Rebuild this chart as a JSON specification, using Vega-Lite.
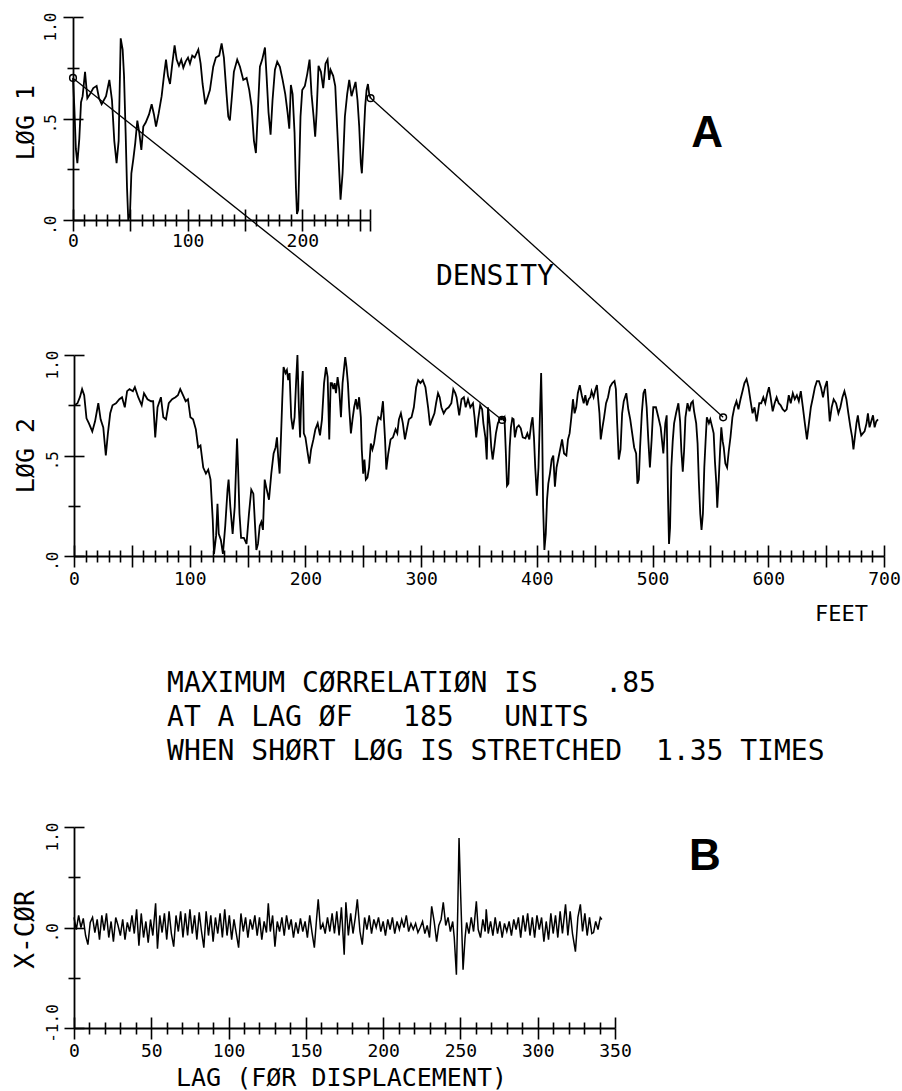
{
  "$schema": "https://vega.github.io/schema/vega-lite/v6.json",
  "width": 902,
  "height": 1091,
  "autosize": {"type": "none"},
  "padding": 0,
  "background": "white",
  "config": {
    "view": {"stroke": null},
    "axis": {
      "grid": false,
      "domainColor": "black",
      "domainWidth": 1.8,
      "tickColor": "black",
      "tickWidth": 1.6,
      "labelColor": "black",
      "labelFont": "DejaVu Sans Mono",
      "labelFontSize": 18,
      "titleColor": "black",
      "titleFont": "DejaVu Sans Mono",
      "titleFontWeight": "normal",
      "labelFlush": false,
      "labelOverlap": false,
      "labelBound": false
    }
  },
  "datasets": {
    "log1": [
      {"x":0,"y":0.70},{"x":1.2,"y":0.55},{"x":2.5,"y":0.35},{"x":3.8,"y":0.28},{"x":5.5,"y":0.40},{"x":7,"y":0.58},{"x":8.4,"y":0.61},{"x":10.5,"y":0.73},{"x":12.5,"y":0.60},{"x":14.8,"y":0.62},{"x":17.7,"y":0.65},{"x":20.6,"y":0.66},{"x":22.7,"y":0.60},{"x":25,"y":0.57},{"x":28.8,"y":0.61},{"x":31.7,"y":0.69},{"x":34,"y":0.59},{"x":36,"y":0.39},{"x":38,"y":0.28},{"x":39.8,"y":0.39},{"x":41.6,"y":0.895},{"x":43.3,"y":0.84},{"x":44.5,"y":0.71},{"x":45.9,"y":0.43},{"x":47.1,"y":0.16},{"x":48.2,"y":0.0},{"x":49.7,"y":0.03},{"x":50.9,"y":0.23},{"x":52.6,"y":0.30},{"x":54.3,"y":0.38},{"x":56.1,"y":0.49},{"x":57.8,"y":0.43},{"x":59.6,"y":0.345},{"x":61.3,"y":0.46},{"x":63.4,"y":0.48},{"x":66.3,"y":0.52},{"x":68.6,"y":0.57},{"x":70.6,"y":0.52},{"x":72.4,"y":0.46},{"x":74.7,"y":0.525},{"x":77.3,"y":0.61},{"x":79.3,"y":0.71},{"x":81.1,"y":0.79},{"x":82.8,"y":0.71},{"x":84.6,"y":0.67},{"x":86.6,"y":0.77},{"x":88.6,"y":0.86},{"x":90.4,"y":0.79},{"x":92.4,"y":0.76},{"x":94.4,"y":0.79},{"x":96.2,"y":0.75},{"x":98.2,"y":0.78},{"x":100.3,"y":0.80},{"x":102,"y":0.77},{"x":104,"y":0.81},{"x":106.1,"y":0.80},{"x":109.3,"y":0.84},{"x":111.3,"y":0.77},{"x":113,"y":0.67},{"x":115.4,"y":0.57},{"x":117.7,"y":0.61},
      {"x":119.4,"y":0.64},{"x":122.3,"y":0.755},{"x":124.6,"y":0.80},{"x":127.5,"y":0.81},{"x":129.6,"y":0.87},{"x":131.6,"y":0.80},{"x":133.9,"y":0.62},{"x":135.4,"y":0.51},{"x":136.8,"y":0.49},{"x":138.3,"y":0.59},{"x":140.3,"y":0.73},{"x":143.2,"y":0.79},{"x":145.6,"y":0.755},{"x":148.5,"y":0.69},{"x":151.4,"y":0.70},{"x":153.7,"y":0.64},{"x":155.7,"y":0.56},{"x":157.8,"y":0.39},{"x":159.5,"y":0.33},{"x":161,"y":0.51},{"x":163,"y":0.755},{"x":165,"y":0.79},{"x":167.4,"y":0.85},{"x":168.8,"y":0.71},{"x":170.5,"y":0.53},{"x":172.3,"y":0.42},{"x":174,"y":0.59},{"x":176.1,"y":0.74},{"x":178.1,"y":0.78},{"x":180.4,"y":0.755},{"x":182.8,"y":0.69},{"x":185.1,"y":0.62},{"x":187.1,"y":0.53},{"x":188.6,"y":0.45},{"x":190,"y":0.665},{"x":191.5,"y":0.62},{"x":193.2,"y":0.43},{"x":194.4,"y":0.16},{"x":195.3,"y":0.03},{"x":196.4,"y":0.05},{"x":197.3,"y":0.26},{"x":198.4,"y":0.51},{"x":199.9,"y":0.64},{"x":202.2,"y":0.66},{"x":204.3,"y":0.72},{"x":206.3,"y":0.79},{"x":208,"y":0.62},{"x":209.8,"y":0.51},{"x":211.2,"y":0.41},{"x":212.4,"y":0.525},{"x":214.1,"y":0.76},{"x":216.2,"y":0.73},{"x":218.2,"y":0.65},{"x":220.2,"y":0.77},{"x":222,"y":0.79},{"x":223.4,"y":0.69},{"x":224.6,"y":0.74},{"x":226.9,"y":0.71},{"x":228.7,"y":0.66},{"x":229.8,"y":0.525},{"x":231.3,"y":0.345},{"x":233.3,"y":0.10},{"x":235.1,"y":0.23},{"x":237.1,"y":0.51},{"x":239.1,"y":0.62},{"x":240.9,"y":0.69},{"x":242.9,"y":0.61},{"x":244.4,"y":0.64},{"x":246.4,"y":0.68},{"x":248.1,"y":0.59},{"x":249.6,"y":0.46},{"x":251,"y":0.28},{"x":251.9,"y":0.23},{"x":253.1,"y":0.36},{"x":254.8,"y":0.56},{"x":256,"y":0.64},{"x":257.2,"y":0.67},{"x":258.3,"y":0.62},{"x":259.5,"y":0.60}
    ],
    "ends1": [{"x":0,"y":0.70},{"x":259.5,"y":0.60}],
    "log2": [
      {"x":0.6,"y":0.75},{"x":3,"y":0.76},{"x":5.1,"y":0.79},{"x":7,"y":0.83},{"x":8.8,"y":0.80},{"x":10.8,"y":0.685},{"x":12.9,"y":0.66},{"x":15.8,"y":0.62},{"x":18.2,"y":0.67},{"x":21,"y":0.76},{"x":23,"y":0.68},{"x":25.3,"y":0.64},{"x":27.5,"y":0.50},{"x":29.3,"y":0.61},{"x":31.3,"y":0.71},{"x":33.3,"y":0.75},{"x":36.3,"y":0.76},{"x":39.2,"y":0.78},{"x":41.5,"y":0.79},{"x":43.9,"y":0.74},{"x":45.9,"y":0.82},{"x":48,"y":0.83},{"x":50.9,"y":0.82},{"x":52.6,"y":0.84},{"x":55.5,"y":0.79},{"x":58.5,"y":0.75},{"x":60.5,"y":0.81},{"x":63.5,"y":0.78},{"x":66.6,"y":0.77},{"x":68.4,"y":0.77},{"x":70.2,"y":0.59},{"x":72.2,"y":0.74},{"x":75.1,"y":0.79},{"x":77.2,"y":0.69},{"x":79.5,"y":0.68},{"x":81.9,"y":0.76},{"x":84.8,"y":0.78},{"x":87.7,"y":0.79},{"x":89.8,"y":0.80},{"x":91.8,"y":0.83},{"x":94.2,"y":0.80},{"x":96.5,"y":0.77},{"x":98.5,"y":0.78},{"x":100.6,"y":0.69},{"x":102.9,"y":0.68},{"x":105.3,"y":0.63},{"x":107.3,"y":0.54},{"x":109.3,"y":0.55},{"x":111.7,"y":0.44},{"x":114,"y":0.41},{"x":116,"y":0.43},{"x":118,"y":0.38},{"x":119.9,"y":0.18},{"x":121,"y":0.01},{"x":122.8,"y":0.10},{"x":124,"y":0.26},{"x":125.1,"y":0.11},{"x":126.9,"y":0.08},{"x":128.7,"y":0.01},{"x":130.7,"y":0.15},{"x":132.7,"y":0.33},{"x":133.6,"y":0.38},{"x":135.1,"y":0.245},{"x":137.1,"y":0.11},{"x":138.9,"y":0.245},{"x":140.9,"y":0.585},{"x":141.8,"y":0.44},{"x":143,"y":0.21},{"x":144.4,"y":0.09},{"x":146.8,"y":0.09},{"x":149.1,"y":0.06},{"x":151.2,"y":0.21},{"x":153.2,"y":0.33},{"x":155,"y":0.31},
      {"x":157.6,"y":0.03},{"x":159,"y":0.06},{"x":160.5,"y":0.15},{"x":161.9,"y":0.17},{"x":163.3,"y":0.13},{"x":164.8,"y":0.38},{"x":166.2,"y":0.34},{"x":168.5,"y":0.28},{"x":170.5,"y":0.41},{"x":172.5,"y":0.51},{"x":174.2,"y":0.54},{"x":175.4,"y":0.59},{"x":176.5,"y":0.49},{"x":177.7,"y":0.41},{"x":178.8,"y":0.58},{"x":180,"y":0.78},{"x":181.1,"y":0.94},{"x":182.8,"y":0.91},{"x":184,"y":0.925},{"x":185.1,"y":0.875},{"x":186.3,"y":0.91},{"x":187.7,"y":0.69},{"x":189.1,"y":0.63},{"x":190.6,"y":0.69},{"x":192,"y":0.875},{"x":193.1,"y":1.0},{"x":194.3,"y":0.74},{"x":195.4,"y":0.59},{"x":196.6,"y":0.83},{"x":197.7,"y":0.92},{"x":198.6,"y":0.61},{"x":200,"y":0.59},{"x":202,"y":0.51},{"x":203.4,"y":0.46},{"x":204.9,"y":0.53},{"x":206.9,"y":0.58},{"x":208.6,"y":0.63},{"x":210.6,"y":0.66},{"x":212.6,"y":0.60},{"x":214.3,"y":0.68},{"x":216.1,"y":0.86},{"x":217.8,"y":0.94},{"x":219.2,"y":0.89},{"x":220.6,"y":0.58},{"x":221.8,"y":0.86},{"x":222.9,"y":0.86},{"x":224.1,"y":0.83},{"x":225.2,"y":0.86},{"x":226.4,"y":0.81},{"x":227.8,"y":0.89},{"x":229.2,"y":0.83},{"x":230.7,"y":0.69},{"x":232.1,"y":0.86},{"x":233.5,"y":0.94},{"x":234.4,"y":0.99},{"x":235.5,"y":0.94},{"x":236.7,"y":0.86},{"x":237.8,"y":0.74},{"x":239.3,"y":0.61},{"x":240.7,"y":0.68},{"x":242.1,"y":0.74},{"x":243.6,"y":0.78},{"x":245,"y":0.73},{"x":246.4,"y":0.79},{"x":247.9,"y":0.69},{"x":248.7,"y":0.53},{"x":249.9,"y":0.41},{"x":251,"y":0.48},{"x":252.2,"y":0.38},{"x":253.6,"y":0.39},{"x":255,"y":0.44},{"x":256.5,"y":0.56},{"x":257.9,"y":0.53},{"x":259.3,"y":0.56},{"x":261.3,"y":0.64},{"x":263,"y":0.69},{"x":265,"y":0.68},{"x":267,"y":0.77},{"x":268.8,"y":0.58},{"x":269.9,"y":0.43},{"x":271.6,"y":0.51},{"x":273.6,"y":0.58},{"x":275.6,"y":0.59},{"x":277.9,"y":0.63},{"x":279.4,"y":0.61},{"x":280.8,"y":0.68},{"x":282.5,"y":0.71},{"x":284.2,"y":0.66},{"x":286,"y":0.58},{"x":288,"y":0.64},{"x":289.4,"y":0.68},{"x":291.7,"y":0.69},{"x":293.7,"y":0.74},{"x":295.7,"y":0.84},{"x":297.4,"y":0.875},{"x":299.4,"y":0.86},{"x":301.4,"y":0.875},{"x":303.7,"y":0.84},{"x":306,"y":0.74},{"x":307.7,"y":0.65},{"x":309.5,"y":0.68},{"x":311.5,"y":0.71},{"x":312.9,"y":0.76},{"x":314.6,"y":0.81},{"x":316,"y":0.79},{"x":317.5,"y":0.74},{"x":319.5,"y":0.71},{"x":321.5,"y":0.73},{"x":323.8,"y":0.74},{"x":326.1,"y":0.76},{"x":327.8,"y":0.83},{"x":329.5,"y":0.81},
      {"x":330.6,"y":0.79},{"x":332.9,"y":0.70},{"x":334.9,"y":0.78},{"x":336.9,"y":0.79},{"x":338.5,"y":0.74},{"x":340.5,"y":0.78},{"x":342.5,"y":0.74},{"x":344.8,"y":0.76},{"x":346.2,"y":0.69},{"x":347.6,"y":0.59},{"x":349.3,"y":0.68},{"x":351,"y":0.75},{"x":352.7,"y":0.73},{"x":353.8,"y":0.66},{"x":355.5,"y":0.59},{"x":356.7,"y":0.48},{"x":357.8,"y":0.74},{"x":359.5,"y":0.64},{"x":360.6,"y":0.54},{"x":361.8,"y":0.48},{"x":363.2,"y":0.54},{"x":364.6,"y":0.61},{"x":366.3,"y":0.66},{"x":368,"y":0.68},{"x":369.7,"y":0.69},{"x":370.8,"y":0.68},{"x":372,"y":0.69},{"x":373.1,"y":0.53},{"x":374.2,"y":0.35},{"x":375.4,"y":0.36},{"x":376.5,"y":0.54},{"x":377.6,"y":0.64},{"x":378.8,"y":0.685},{"x":379.9,"y":0.68},{"x":381,"y":0.59},{"x":382.7,"y":0.64},{"x":384.4,"y":0.65},{"x":386.1,"y":0.635},{"x":387.8,"y":0.59},{"x":390.1,"y":0.585},{"x":391.8,"y":0.61},{"x":393.5,"y":0.58},{"x":395.2,"y":0.66},{"x":396.3,"y":0.69},{"x":397.5,"y":0.59},{"x":398.6,"y":0.44},{"x":400,"y":0.30},{"x":401.4,"y":0.44},{"x":402.6,"y":0.69},{"x":403.7,"y":0.91},{"x":404.5,"y":0.69},{"x":405.4,"y":0.245},{"x":406.5,"y":0.03},{"x":407.7,"y":0.11},{"x":408.8,"y":0.28},{"x":409.9,"y":0.36},{"x":411.3,"y":0.41},{"x":412.8,"y":0.48},{"x":414.2,"y":0.50},{"x":415.6,"y":0.345},{"x":417,"y":0.44},{"x":418.4,"y":0.48},{"x":420.1,"y":0.53},{"x":421.8,"y":0.58},{"x":423.5,"y":0.51},{"x":425.5,"y":0.50},{"x":426.9,"y":0.58},{"x":428.3,"y":0.61},{"x":429.8,"y":0.69},{"x":431.2,"y":0.78},{"x":432.6,"y":0.71},{"x":434,"y":0.74},{"x":435.4,"y":0.81},{"x":437.1,"y":0.85},{"x":438.8,"y":0.80},{"x":440.5,"y":0.76},{"x":441.9,"y":0.80},{"x":443.3,"y":0.75},{"x":444.8,"y":0.78},{"x":446.2,"y":0.79},{"x":447.3,"y":0.82},{"x":449,"y":0.79},{"x":450.7,"y":0.83},{"x":451.9,"y":0.85},{"x":453,"y":0.78},{"x":454.1,"y":0.71},{"x":455.2,"y":0.58},{"x":456.7,"y":0.64},{"x":458.1,"y":0.69},{"x":459.8,"y":0.76},{"x":461.5,"y":0.79},{"x":463.2,"y":0.84},{"x":465.2,"y":0.86},{"x":467.1,"y":0.87},{"x":468.3,"y":0.83},{"x":469.4,"y":0.66},{"x":470.8,"y":0.48},{"x":472.3,"y":0.53},{"x":473.7,"y":0.71},{"x":475.1,"y":0.77},{"x":477.3,"y":0.81},{"x":479,"y":0.73},{"x":480.7,"y":0.68},{"x":482.4,"y":0.61},{"x":484.1,"y":0.54},{"x":485.8,"y":0.51},{"x":486.9,"y":0.36},{"x":488.1,"y":0.38},{"x":489.2,"y":0.54},{"x":490.7,"y":0.71},{"x":492.1,"y":0.81},{"x":493.5,"y":0.83},{"x":494.9,"y":0.74},{"x":496.3,"y":0.58},{"x":497.7,"y":0.44},{"x":499.2,"y":0.58},{"x":500.6,"y":0.74},
      {"x":502.9,"y":0.74},{"x":505,"y":0.69},{"x":507,"y":0.64},{"x":509.3,"y":0.51},{"x":511,"y":0.66},{"x":512.2,"y":0.70},{"x":513.4,"y":0.275},{"x":514.2,"y":0.06},{"x":515.1,"y":0.14},{"x":516.2,"y":0.44},{"x":517.4,"y":0.57},{"x":518.6,"y":0.66},{"x":520.3,"y":0.71},{"x":522.3,"y":0.76},{"x":523.8,"y":0.67},{"x":524.9,"y":0.52},{"x":526.1,"y":0.42},{"x":527.2,"y":0.52},{"x":528.4,"y":0.69},{"x":530.2,"y":0.76},{"x":531.9,"y":0.72},{"x":533.3,"y":0.76},{"x":534.8,"y":0.77},{"x":535.9,"y":0.72},{"x":537.7,"y":0.66},{"x":538.9,"y":0.56},{"x":540,"y":0.37},{"x":541.2,"y":0.21},{"x":542.3,"y":0.13},{"x":543.5,"y":0.21},{"x":544.7,"y":0.44},{"x":545.8,"y":0.57},{"x":546.9,"y":0.69},{"x":548.7,"y":0.66},{"x":549.9,"y":0.68},{"x":551.6,"y":0.64},{"x":552.8,"y":0.61},{"x":553.9,"y":0.47},{"x":555.1,"y":0.36},{"x":555.9,"y":0.24},{"x":557.1,"y":0.37},{"x":558.3,"y":0.52},{"x":559.4,"y":0.64},{"x":560.6,"y":0.57},{"x":561.5,"y":0.54},{"x":562.9,"y":0.46},{"x":564.4,"y":0.44},{"x":565.8,"y":0.52},{"x":567.3,"y":0.59},{"x":569,"y":0.69},{"x":570.7,"y":0.74},{"x":572.5,"y":0.77},{"x":574.2,"y":0.73},{"x":576,"y":0.78},{"x":577.7,"y":0.82},{"x":579.4,"y":0.86},{"x":581.2,"y":0.88},{"x":582.9,"y":0.84},{"x":584.7,"y":0.77},{"x":586.4,"y":0.71},{"x":588.1,"y":0.74},{"x":589.9,"y":0.67},{"x":591,"y":0.71},{"x":592.2,"y":0.76},{"x":593.9,"y":0.76},{"x":595.7,"y":0.79},{"x":597.4,"y":0.76},{"x":599.2,"y":0.81},{"x":600.6,"y":0.84},{"x":602,"y":0.79},{"x":603.8,"y":0.72},{"x":605.5,"y":0.76},{"x":607.2,"y":0.79},{"x":609,"y":0.76},{"x":610.7,"y":0.75},{"x":612.4,"y":0.73},{"x":614.2,"y":0.72},{"x":615.9,"y":0.73},{"x":617.7,"y":0.80},{"x":619.4,"y":0.76},{"x":621.2,"y":0.81},{"x":622.9,"y":0.78},{"x":624.7,"y":0.80},{"x":626.4,"y":0.77},{"x":628.1,"y":0.82},{"x":629.9,"y":0.74},{"x":631.6,"y":0.66},{"x":633.4,"y":0.58},{"x":635.1,"y":0.66},{"x":636.8,"y":0.74},{"x":638.6,"y":0.79},{"x":640.3,"y":0.84},{"x":642,"y":0.87},{"x":643.8,"y":0.87},{"x":645.5,"y":0.84},{"x":647.3,"y":0.79},{"x":649,"y":0.84},{"x":650.7,"y":0.87},{"x":651.9,"y":0.77},{"x":653.1,"y":0.67},{"x":654.8,"y":0.74},{"x":656.5,"y":0.78},{"x":658.6,"y":0.76},{"x":660.6,"y":0.71},{"x":662.3,"y":0.74},{"x":664.1,"y":0.79},{"x":665.8,"y":0.82},{"x":667.5,"y":0.78},{"x":669.2,"y":0.71},{"x":671,"y":0.64},{"x":672.5,"y":0.59},{"x":673.6,"y":0.53},{"x":674.8,"y":0.59},{"x":676.2,"y":0.66},{"x":677.4,"y":0.70},{"x":678.8,"y":0.64},{"x":680.3,"y":0.60},{"x":681.7,"y":0.61},{"x":683.2,"y":0.62},{"x":684.9,"y":0.66},{"x":686.1,"y":0.71},{"x":687.5,"y":0.64},{"x":689,"y":0.67},{"x":690.5,"y":0.70},{"x":691.9,"y":0.64},{"x":693.3,"y":0.67},{"x":694.8,"y":0.68}
    ],
    "links": [
      {"x":0,"y":2.373,"x2":370,"y2":0.677},
      {"x":256.3,"y":2.279,"x2":561,"y2":0.69}
    ],
    "ends2": [{"x":370,"y":0.677},{"x":561,"y":0.69}],
    "xcor": [
      {"x":0,"y":0.10},{"x":1.5,"y":-0.02},{"x":3,"y":0.12},{"x":4.5,"y":0.0},{"x":6,"y":0.09},{"x":7.5,"y":-0.08},{"x":9,"y":-0.17},{"x":10.5,"y":0.05},{"x":12,"y":0.10},{"x":13.5,"y":-0.05},{"x":15,"y":0.08},{"x":16.5,"y":-0.12},{"x":18,"y":0.12},{"x":19.5,"y":-0.03},{"x":21,"y":0.14},{"x":22.5,"y":-0.10},{"x":24,"y":0.06},{"x":25.5,"y":-0.14},{"x":27,"y":0.10},{"x":28.5,"y":0.02},{"x":30,"y":-0.08},{"x":31.5,"y":0.08},{"x":33,"y":-0.12},{"x":34.5,"y":0.05},{"x":36,"y":-0.04},{"x":37.5,"y":0.12},{"x":39,"y":-0.06},{"x":40.5,"y":0.18},{"x":42,"y":-0.18},{"x":43.5,"y":0.14},{"x":45,"y":-0.10},{"x":46.5,"y":0.06},{"x":48,"y":-0.15},{"x":49.5,"y":0.08},{"x":51,"y":-0.08},{"x":52.8,"y":0.24},{"x":54,"y":-0.21},{"x":55.5,"y":0.12},{"x":57,"y":-0.05},{"x":58.5,"y":0.14},{"x":60,"y":-0.12},{"x":61.5,"y":0.16},{"x":63,"y":-0.06},{"x":64.5,"y":-0.19},{"x":66,"y":0.12},{"x":67.5,"y":-0.04},{"x":69,"y":0.16},{"x":70.5,"y":-0.10},{"x":72,"y":0.14},{"x":73.5,"y":-0.08},{"x":75,"y":0.18},{"x":76.5,"y":-0.06},{"x":78,"y":0.12},{"x":79.5,"y":-0.12},{"x":81,"y":0.15},{"x":82.5,"y":-0.04},{"x":84,"y":-0.20},{"x":85.5,"y":0.16},{"x":87,"y":-0.08},{"x":88.5,"y":0.12},{"x":90,"y":-0.14},{"x":91.5,"y":0.10},{"x":93,"y":-0.06},{"x":94.5,"y":0.14},{"x":96,"y":-0.10},{"x":97.5,"y":0.18},{"x":99,"y":-0.08},{"x":100.5,"y":0.12},{"x":102,"y":-0.12},{"x":103.5,"y":0.08},{"x":105,"y":-0.06},{"x":106.5,"y":-0.20},{"x":108,"y":0.14},{"x":109.5,"y":-0.04},{"x":111,"y":0.10},{"x":112.5,"y":-0.10},{"x":114,"y":0.08},{"x":115.5,"y":-0.02},{"x":117,"y":0.12},{"x":118.5,"y":-0.08},{"x":120,"y":0.10},{"x":121.5,"y":-0.12},{"x":123,"y":0.06},{"x":124.5,"y":-0.05},{"x":125.7,"y":0.24},{"x":127,"y":-0.04},{"x":128.5,"y":0.12},{"x":130,"y":-0.19},{"x":131.5,"y":0.06},{"x":133,"y":-0.04},{"x":134.5,"y":0.10},{"x":136,"y":-0.08},{"x":137.5,"y":0.12},{"x":139,"y":-0.02},{"x":140.5,"y":0.08},{"x":142,"y":-0.10},{"x":143.5,"y":0.05},{"x":145,"y":-0.06},{"x":146.5,"y":0.09},{"x":148,"y":-0.04},{"x":149.5,"y":0.06},{"x":151,"y":-0.10},{"x":152.5,"y":0.12},{"x":154,"y":-0.05},{"x":155.5,"y":-0.20},{"x":157,"y":0.10},{"x":158,"y":0.28},{"x":159.5,"y":-0.02},{"x":161,"y":0.04},{"x":162.5,"y":-0.06},{"x":164,"y":0.10},{"x":165.5,"y":-0.04},{"x":167,"y":0.14},{"x":168.5,"y":-0.06},{"x":170,"y":0.16},{"x":171.5,"y":-0.08},{"x":173,"y":0.20},{"x":174.8,"y":-0.27},{"x":175.9,"y":0.25},{"x":177.5,"y":-0.08},{"x":179,"y":0.14},{"x":180.5,"y":-0.06},{"x":182,"y":0.10},{"x":183.3,"y":0.28},{"x":185,"y":-0.04},{"x":186.5,"y":-0.17},{"x":188,"y":0.10},{"x":189.5,"y":-0.02},{"x":191,"y":0.12},{"x":192.5,"y":-0.06},{"x":194,"y":0.08},{"x":195.5,"y":0.0},{"x":197,"y":0.10},{"x":198.5,"y":-0.04},{"x":200,"y":0.06},{"x":201.5,"y":-0.08},{"x":203,"y":0.08},{"x":204.5,"y":-0.02},{"x":206,"y":0.10},{"x":207.5,"y":-0.06},{"x":209,"y":0.06},{"x":210.5,"y":-0.02},{"x":212,"y":0.08},{"x":213.5,"y":0.0},{"x":215,"y":0.12},{"x":216.5,"y":-0.04},{"x":218,"y":0.04},{"x":219.5,"y":-0.02},{"x":221,"y":0.04},{"x":222.5,"y":-0.05},{"x":224,"y":0.0},{"x":225.5,"y":0.06},{"x":227,"y":-0.06},{"x":228.5,"y":0.02},{"x":230,"y":-0.10},{"x":231.4,"y":0.21},{"x":233,"y":0.06},{"x":234.6,"y":-0.14},{"x":236,"y":0.02},{"x":237.5,"y":0.08},{"x":238.9,"y":0.25},{"x":240.5,"y":0.02},{"x":242,"y":0.10},{"x":243.5,"y":-0.04},{"x":245,"y":0.06},{"x":246,"y":-0.10},{"x":247.4,"y":-0.47},{"x":248.3,"y":0.20},{"x":249.1,"y":0.89},{"x":250.2,"y":0.30},{"x":251.7,"y":-0.42},{"x":253,"y":-0.10},{"x":254,"y":0.05},{"x":255.5,"y":-0.06},{"x":257,"y":0.10},{"x":258.5,"y":-0.04},{"x":260.3,"y":0.26},{"x":261.5,"y":-0.02},{"x":263,"y":-0.10},{"x":264.5,"y":0.08},{"x":266,"y":-0.04},{"x":266.7,"y":0.18},{"x":268,"y":-0.06},{"x":269.5,"y":0.06},{"x":271,"y":-0.08},{"x":272.5,"y":0.10},{"x":274,"y":-0.06},{"x":275.5,"y":0.06},{"x":277,"y":-0.10},{"x":278.5,"y":0.04},{"x":280,"y":-0.04},{"x":281.5,"y":0.06},{"x":283,"y":-0.08},{"x":284.5,"y":0.08},{"x":286,"y":-0.02},{"x":287.5,"y":0.10},{"x":289,"y":-0.10},{"x":290.5,"y":0.12},{"x":292,"y":-0.04},{"x":293.5,"y":0.14},{"x":295,"y":-0.08},{"x":296.5,"y":0.10},{"x":298,"y":-0.10},{"x":299.5,"y":0.12},{"x":301,"y":-0.02},{"x":302.5,"y":0.10},{"x":304,"y":-0.14},{"x":305.5,"y":0.06},{"x":307,"y":-0.12},{"x":308.5,"y":0.14},{"x":310,"y":-0.06},{"x":311.5,"y":0.12},{"x":313,"y":-0.10},{"x":314.5,"y":0.16},{"x":316,"y":-0.06},{"x":318,"y":0.23},{"x":319.5,"y":-0.08},{"x":321,"y":0.16},{"x":322.5,"y":-0.06},{"x":324.4,"y":-0.24},{"x":326,"y":0.10},{"x":327.6,"y":0.23},{"x":329,"y":-0.04},{"x":330.5,"y":0.14},{"x":332,"y":-0.08},{"x":333.5,"y":0.10},{"x":335,"y":-0.06},{"x":336.1,"y":-0.05},{"x":337.5,"y":0.06},{"x":339,"y":-0.02},{"x":340.5,"y":0.10},{"x":341.5,"y":0.08}
    ],
    "notes": [
      {"x":60.2,"y":2.343,"t":"MAXIMUM CØRRELATIØN IS\u00a0\u00a0\u00a0\u00a0.85"},
      {"x":60.2,"y":2.005,"t":"AT A LAG ØF\u00a0\u00a0\u00a0185\u00a0\u00a0\u00a0UNITS"},
      {"x":60.2,"y":1.667,"t":"WHEN SHØRT LØG IS STRETCHED\u00a0\u00a01.35 TIMES"}
    ]
  },
  "layer": [
    {
      "data": {"name": "log1"},
      "mark": {"type": "line", "color": "black", "strokeWidth": 1.8},
      "encoding": {
        "x": {"field": "x", "type": "quantitative",
          "scale": {"domain": [0, 259], "range": [73, 370], "nice": false, "zero": false},
          "axis": {
            "orient": "bottom", "offset": -871, "title": null,
            "values": [0,10,20,30,40,50,60,70,80,90,100,110,120,130,140,150,160,170,180,190,200,210,220,230,240,250,259],
            "labelExpr": "datum.value % 100 === 0 ? '' + datum.value : ''",
            "labelAlign": "center", "labelBaseline": "top", "labelPadding": 1,
            "tickSize": {"condition": {"test": "datum.value % 50 === 0 || datum.value > 255", "value": 11}, "value": 6}
          }},
        "y": {"field": "y", "type": "quantitative",
          "scale": {"domain": [0, 1], "range": [220, 17], "nice": false, "zero": false},
          "axis": {
            "orient": "left", "offset": -73, "values": [0, 0.25, 0.5, 0.75, 1],
            "title": "LØG 1", "titleX": -40, "titleY": 122, "titleAngle": -90, "titleAlign": "center", "titleBaseline": "alphabetic", "titleFontSize": 25,
            "labelExpr": "datum.value === 0 ? '.0' : datum.value === 0.5 ? '.5' : datum.value === 1 ? '1.0' : ''",
            "labelAngle": -90, "labelAlign": "right", "labelBaseline": "alphabetic", "labelOffset": -5, "labelFontSize": 16, "labelPadding": 8,
            "tickSize": {"condition": {"test": "datum.value === 0 || datum.value === 0.5 || datum.value === 1", "value": 10}, "value": 6}
          }}
      }
    },
    {
      "data": {"name": "ends1"},
      "mark": {"type": "point", "shape": "circle", "filled": false, "color": "black", "size": 45, "strokeWidth": 1.5, "opacity": 1},
      "encoding": {
        "x": {"field": "x", "type": "quantitative",
          "scale": {"domain": [0, 259], "range": [73, 370], "nice": false, "zero": false},
          "axis": {
            "orient": "top", "offset": -220, "title": null, "labels": false, "domain": false,
            "values": [0,10,20,30,40,50,60,70,80,90,100,110,120,130,140,150,160,170,180,190,200,210,220,230,240,250,259],
            "tickSize": {"condition": {"test": "datum.value % 50 === 0 || datum.value > 255", "value": 11}, "value": 6}
          }},
        "y": {"field": "y", "type": "quantitative",
          "scale": {"domain": [0, 1], "range": [220, 17], "nice": false, "zero": false},
          "axis": {
            "orient": "right", "offset": -829, "title": null, "labels": false, "domain": false,
            "values": [0, 0.25, 0.5, 0.75, 1],
            "tickSize": {"condition": {"test": "datum.value === 0 || datum.value === 0.5 || datum.value === 1", "value": 10}, "value": 6}
          }}
      }
    },
    {
      "data": {"values": [{"x": 552.9, "y": 0.36, "t": "A"}]},
      "mark": {"type": "text", "font": "Liberation Sans", "fontWeight": "bold", "fontSize": 44, "align": "center", "baseline": "alphabetic", "color": "black"},
      "encoding": {
        "x": {"field": "x", "type": "quantitative", "scale": {"domain": [0, 259], "range": [73, 370], "nice": false, "zero": false}, "axis": null},
        "y": {"field": "y", "type": "quantitative", "scale": {"domain": [0, 1], "range": [220, 17], "nice": false, "zero": false}, "axis": null},
        "text": {"field": "t"}
      }
    },
    {
      "data": {"name": "log2"},
      "mark": {"type": "line", "color": "black", "strokeWidth": 1.8},
      "encoding": {
        "x": {"field": "x", "type": "quantitative",
          "scale": {"domain": [0, 700], "range": [74, 884], "nice": false, "zero": false},
          "axis": {
            "orient": "bottom", "offset": -535,
            "values": [0,10,20,30,40,50,60,70,80,90,100,110,120,130,140,150,160,170,180,190,200,210,220,230,240,250,260,270,280,290,300,310,320,330,340,350,360,370,380,390,400,410,420,430,440,450,460,470,480,490,500,510,520,530,540,550,560,570,580,590,600,610,620,630,640,650,660,670,680,690,700],
            "labelExpr": "datum.value % 100 === 0 ? '' + datum.value : ''",
            "labelAlign": "center", "labelBaseline": "top", "labelPadding": 3,
            "tickSize": {"condition": {"test": "datum.value % 50 === 0", "value": 11}, "value": 6},
            "title": "FEET", "titleX": 841, "titleY": 64, "titleAngle": 0, "titleAlign": "center", "titleBaseline": "alphabetic", "titleFontSize": 22
          }},
        "y": {"field": "y", "type": "quantitative",
          "scale": {"domain": [0, 1], "range": [556, 355], "nice": false, "zero": false},
          "axis": {
            "orient": "left", "offset": -74, "values": [0, 0.25, 0.5, 0.75, 1],
            "title": "LØG 2", "titleX": -41, "titleY": 455, "titleAngle": -90, "titleAlign": "center", "titleBaseline": "alphabetic", "titleFontSize": 25,
            "labelExpr": "datum.value === 0 ? '.0' : datum.value === 0.5 ? '.5' : datum.value === 1 ? '1.0' : ''",
            "labelAngle": -90, "labelAlign": "right", "labelBaseline": "alphabetic", "labelOffset": -5, "labelFontSize": 16, "labelPadding": 7,
            "tickSize": {"condition": {"test": "datum.value === 0 || datum.value === 0.5 || datum.value === 1", "value": 10}, "value": 6}
          }}
      }
    },
    {
      "data": {"name": "links"},
      "mark": {"type": "rule", "color": "black", "strokeWidth": 1.3},
      "encoding": {
        "x": {"field": "x", "type": "quantitative", "scale": {"domain": [0, 700], "range": [74, 884], "nice": false, "zero": false}, "axis": null},
        "y": {"field": "y", "type": "quantitative", "scale": {"domain": [0, 1], "range": [556, 355], "nice": false, "zero": false}, "axis": null},
        "x2": {"field": "x2"},
        "y2": {"field": "y2"}
      }
    },
    {
      "data": {"name": "ends2"},
      "mark": {"type": "point", "shape": "circle", "filled": false, "color": "black", "size": 45, "strokeWidth": 1.5, "opacity": 1},
      "encoding": {
        "x": {"field": "x", "type": "quantitative",
          "scale": {"domain": [0, 700], "range": [74, 884], "nice": false, "zero": false},
          "axis": {
            "orient": "top", "offset": -556, "title": null, "labels": false, "domain": false,
            "values": [0,10,20,30,40,50,60,70,80,90,100,110,120,130,140,150,160,170,180,190,200,210,220,230,240,250,260,270,280,290,300,310,320,330,340,350,360,370,380,390,400,410,420,430,440,450,460,470,480,490,500,510,520,530,540,550,560,570,580,590,600,610,620,630,640,650,660,670,680,690,700],
            "tickSize": {"condition": {"test": "datum.value % 50 === 0", "value": 11}, "value": 6}
          }},
        "y": {"field": "y", "type": "quantitative",
          "scale": {"domain": [0, 1], "range": [556, 355], "nice": false, "zero": false},
          "axis": {
            "orient": "right", "offset": -828, "title": null, "labels": false, "domain": false,
            "values": [0, 0.25, 0.5, 0.75, 1],
            "tickSize": {"condition": {"test": "datum.value === 0 || datum.value === 0.5 || datum.value === 1", "value": 10}, "value": 6}
          }}
      }
    },
    {
      "data": {"values": [{"x": 363.8, "y": 1.348, "t": "DENSITY"}]},
      "mark": {"type": "text", "font": "DejaVu Sans Mono", "fontSize": 28, "align": "center", "baseline": "alphabetic", "color": "black"},
      "encoding": {
        "x": {"field": "x", "type": "quantitative", "scale": {"domain": [0, 700], "range": [74, 884], "nice": false, "zero": false}, "axis": null},
        "y": {"field": "y", "type": "quantitative", "scale": {"domain": [0, 1], "range": [556, 355], "nice": false, "zero": false}, "axis": null},
        "text": {"field": "t"}
      }
    },
    {
      "data": {"name": "xcor"},
      "mark": {"type": "line", "color": "black", "strokeWidth": 1.5},
      "encoding": {
        "x": {"field": "x", "type": "quantitative",
          "scale": {"domain": [0, 350], "range": [74, 615], "nice": false, "zero": false},
          "axis": {
            "orient": "bottom", "offset": -63,
            "values": [0,10,20,30,40,50,60,70,80,90,100,110,120,130,140,150,160,170,180,190,200,210,220,230,240,250,260,270,280,290,300,310,320,330,340,350],
            "labelExpr": "datum.value % 50 === 0 ? '' + datum.value : ''",
            "labelAlign": "center", "labelBaseline": "top", "labelFontSize": 18, "labelPadding": 3,
            "tickSize": {"condition": {"test": "datum.value % 50 === 0", "value": 11}, "value": 6},
            "title": "LAG (FØR DISPLACEMENT)", "titleX": 341, "titleY": 57, "titleAngle": 0, "titleAlign": "center", "titleBaseline": "alphabetic", "titleFontSize": 25
          }},
        "y": {"field": "y", "type": "quantitative",
          "scale": {"domain": [-1, 1], "range": [1028, 827], "nice": false, "zero": false},
          "axis": {
            "orient": "left", "offset": -74, "values": [-1, -0.5, 0, 0.5, 1],
            "title": "X-CØR", "titleX": -41, "titleY": 929, "titleAngle": -90, "titleAlign": "center", "titleBaseline": "alphabetic", "titleFontSize": 26,
            "labelExpr": "datum.value === 0 ? '.0' : datum.value === 1 ? '1.0' : datum.value === -1 ? '-1.0' : ''",
            "labelAngle": -90,
            "labelAlign": {"condition": {"test": "datum.value === -1", "value": "center"}, "value": "right"},
            "labelBaseline": "alphabetic", "labelOffset": -5, "labelFontSize": 16, "labelPadding": 7,
            "tickSize": {"condition": {"test": "datum.value % 1 === 0", "value": 10}, "value": 6}
          }}
      }
    },
    {
      "data": {"values": [{"x": 408.2, "y": 0.577, "t": "B"}]},
      "mark": {"type": "text", "font": "Liberation Sans", "fontWeight": "bold", "fontSize": 44, "align": "center", "baseline": "alphabetic", "color": "black"},
      "encoding": {
        "x": {"field": "x", "type": "quantitative",
          "scale": {"domain": [0, 350], "range": [74, 615], "nice": false, "zero": false},
          "axis": {
            "orient": "top", "offset": -1028, "title": null, "labels": false, "domain": false,
            "values": [0,10,20,30,40,50,60,70,80,90,100,110,120,130,140,150,160,170,180,190,200,210,220,230,240,250,260,270,280,290,300,310,320,330,340,350],
            "tickSize": {"condition": {"test": "datum.value % 50 === 0", "value": 11}, "value": 6}
          }},
        "y": {"field": "y", "type": "quantitative",
          "scale": {"domain": [-1, 1], "range": [1028, 827], "nice": false, "zero": false},
          "axis": {
            "orient": "right", "offset": -828, "title": null, "labels": false, "domain": false,
            "values": [-1, -0.5, 0, 0.5, 1],
            "tickSize": {"condition": {"test": "datum.value % 1 === 0", "value": 10}, "value": 6}
          }},
        "text": {"field": "t"}
      }
    },
    {
      "data": {"name": "notes"},
      "mark": {"type": "text", "font": "DejaVu Sans Mono", "fontSize": 28, "align": "left", "baseline": "alphabetic", "color": "black"},
      "encoding": {
        "x": {"field": "x", "type": "quantitative", "scale": {"domain": [0, 350], "range": [74, 615], "nice": false, "zero": false}, "axis": null},
        "y": {"field": "y", "type": "quantitative", "scale": {"domain": [-1, 1], "range": [1028, 827], "nice": false, "zero": false}, "axis": null},
        "text": {"field": "t"}
      }
    }
  ],
  "resolve": {
    "scale": {"x": "independent", "y": "independent"},
    "axis": {"x": "independent", "y": "independent"}
  }
}
